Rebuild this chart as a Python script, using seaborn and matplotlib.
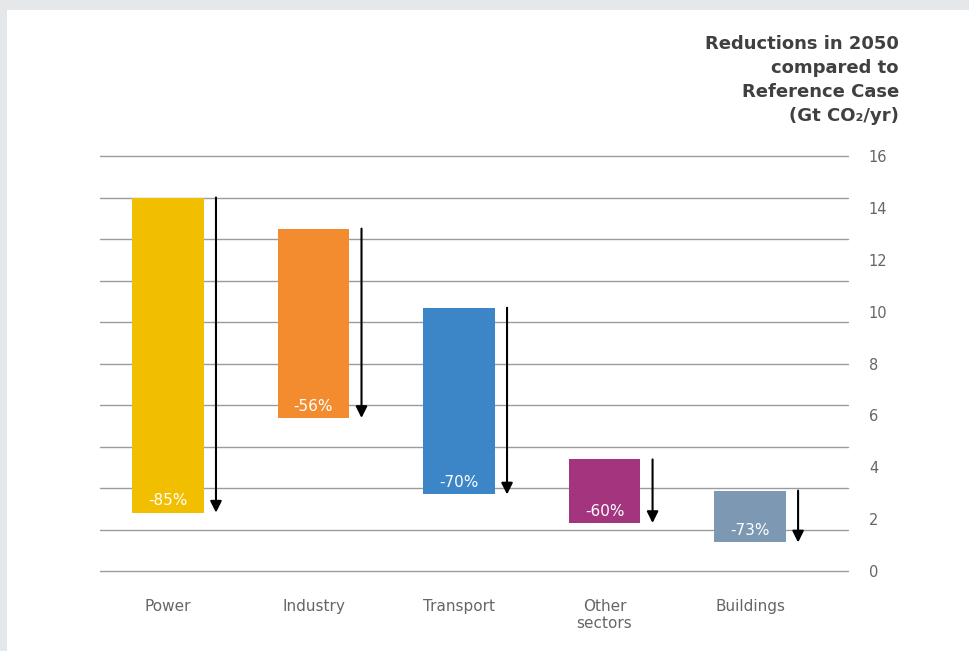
import numpy as np
import pandas as pd
import matplotlib
matplotlib.use("Agg")
import matplotlib.pyplot as plt
import seaborn as sns
from matplotlib.patches import Rectangle

# ---- data (Gt CO2/yr) ----
categories = ["Power", "Industry", "Transport", "Other\nsectors", "Buildings"]
reference_values = [14.4, 13.2, 10.15, 4.3, 3.1]   # bar tops
reduced_values = [2.25, 5.9, 2.95, 1.85, 1.1]       # bar bottoms
pct_labels = ["-85%", "-56%", "-70%", "-60%", "-73%"]
colors = ["#F2BE00", "#F28C2E", "#3C86C8", "#A3357F", "#7C98B2"]
y_ticks = [0, 2, 4, 6, 8, 10, 12, 14, 16]

df = pd.DataFrame({"sector": categories, "top": reference_values,
                   "bottom": reduced_values, "label": pct_labels})

sns.set_theme(style="white")
plt.rcParams["font.family"] = ["DejaVu Sans"]

fig = plt.figure(figsize=(9.7, 6.51), dpi=100, facecolor="#E4E8EB")
fig.patches.append(Rectangle((7 / 970, 0), 1, 1 - 10 / 651, transform=fig.transFigure,
                             facecolor="white", edgecolor="none", zorder=-10))
ax = fig.add_axes([100 / 970, 1 - 571 / 651, (848 - 100) / 970, (571 - 156) / 651])
ax.set_zorder(2)
ax.set_facecolor("none")

sns.barplot(data=df, x="sector", y="top", hue="sector", palette=colors,
            legend=False, width=0.49, ax=ax, saturation=1, zorder=3)

# turn bars into floating bars from bottom to top
for patch in ax.patches:
    cx = patch.get_x() + patch.get_width() / 2
    idx = int(round(cx))
    b = df["bottom"].iloc[idx]
    t = df["top"].iloc[idx]
    patch.set_y(b)
    patch.set_height(t - b)
    patch.set_edgecolor("none")

for idx, row in df.iterrows():
    # percentage label
    ax.annotate(row["label"], xy=(idx, row["bottom"]), xytext=(0, 3),
                textcoords="offset points", ha="center", va="bottom",
                color="white", fontsize=11, zorder=5)
    # arrow
    xa = idx + 0.33
    ax.annotate("", xy=(xa, row["bottom"]), xytext=(xa, row["top"]),
                arrowprops=dict(arrowstyle="-|>", color="black", lw=1.5,
                                mutation_scale=17, shrinkA=0, shrinkB=0),
                zorder=5)

ax.set_xlim(-0.467, 4.673)
ax.set_ylim(0, 16)
ax.yaxis.remove_overlapping_locs = False
ax.set_yticks(y_ticks)
ax.set_yticks(np.linspace(0, 16, 11), minor=True)
ax.yaxis.tick_right()
ax.tick_params(axis="y", which="major", length=0, pad=15, labelsize=10.5, labelcolor="#666666")
ax.tick_params(axis="y", which="minor", length=0)
ax.grid(False)
ax.grid(True, axis="y", which="minor", color="#9c9c9c", lw=1.0, zorder=1)
ax.set_axisbelow(True)
for t in ax.yaxis.get_minor_ticks():
    t.gridline.set_clip_on(False)
ax.tick_params(axis="x", length=0, pad=20, labelsize=11, labelcolor="#666666")
ax.set_xlabel("")
ax.set_ylabel("")
for s in ax.spines.values():
    s.set_visible(False)

fig.text(899 / 970, 1 - 35 / 651,
         "Reductions in 2050\ncompared to\nReference Case\n(Gt CO₂/yr)",
         ha="right", va="top", multialignment="right", fontsize=13,
         fontweight="bold", color="#404040", linespacing=1.42)

fig.savefig("out.png", dpi=100, facecolor=fig.get_facecolor())
